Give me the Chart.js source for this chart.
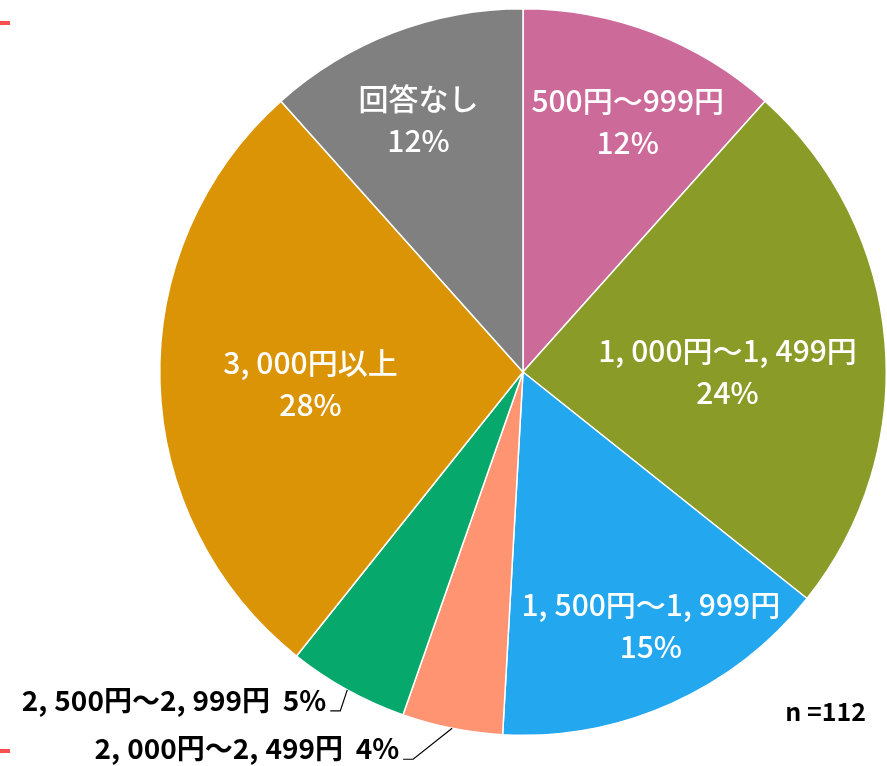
<!DOCTYPE html>
<html>
<head>
<meta charset="utf-8">
<script src="https://cdn.jsdelivr.net/npm/chart.js@4/dist/chart.umd.min.js"></script>
<style>
html,body{margin:0;padding:0;background:#fff;}
#wrap{position:relative;width:887px;height:766px;}
</style>
</head>
<body>
<div id="wrap"><canvas id="c" width="887" height="766"></canvas></div>
<script>
// ---- data ----
const categories = ['500円～999円', '1,000円～1,499円', '1,500円～1,999円', '2,000円～2,499円', '2,500円～2,999円', '3,000円以上', '回答なし'];
const counts = [13, 27, 17, 5, 6, 31, 13];
const percentLabels = ['12%', '24%', '15%', '4%', '5%', '28%', '12%'];
const sampleNote = 'n =112';

// ---- styles ----
const colors = ['#CC6B9A', '#8A9C27', '#23A7EE', '#FF9473', '#06A86B', '#DB9405', '#808080'];
// label placement: [radial fraction, angle shift deg] for inside labels; null => outside
const labelPlace = [[0.747, 1.8], [0.563, 4.8], [0.783, -2.6], null, null, [0.586, -1.6], [0.752, -1.6]];
// outside label elbows (offset from arc edge at mid angle)
const outsideElbow = {3: [-39, 31], 4: [-7, 21]};
const FONT = "'Noto Sans CJK JP', 'Noto Sans', sans-serif";
const COMMA_GAP = 7;

const labelPlugin = {
  id: 'pieLabels',
  afterDatasetsDraw(chart) {
    const ctx = chart.ctx;
    const meta = chart.getDatasetMeta(0);
    ctx.save();
    meta.data.forEach((arc, i) => {
      const p = arc.getProps(['x', 'y', 'startAngle', 'endAngle', 'outerRadius'], true);
      const mid = (p.startAngle + p.endAngle) / 2;
      const place = labelPlace[i];
      if (place) {
        const a = mid + place[1] * Math.PI / 180;
        const r = p.outerRadius * place[0];
        const cx = p.x + Math.cos(a) * r;
        const cy = p.y + Math.sin(a) * r;
        ctx.fillStyle = '#fff';
        ctx.font = '500 30px ' + FONT;
        ctx.textBaseline = 'middle';
        drawSpaced(ctx, categories[i], cx, cy - 21, 'center');
        drawSpaced(ctx, percentLabels[i], cx, cy + 21, 'center');
      } else {
        const ex = p.x + Math.cos(mid) * p.outerRadius;
        const ey = p.y + Math.sin(mid) * p.outerRadius;
        const off = outsideElbow[i];
        const bx = ex + off[0], by = ey + off[1];
        ctx.strokeStyle = '#000';
        ctx.lineWidth = 1.2;
        ctx.beginPath();
        ctx.moveTo(ex, ey);
        ctx.lineTo(bx, by);
        ctx.lineTo(bx - 10, by);
        ctx.stroke();
        ctx.fillStyle = '#000';
        ctx.font = 'bold 28px ' + FONT;
        ctx.textBaseline = 'middle';
        drawSpaced(ctx, categories[i] + '  ' + percentLabels[i], bx - 14, by - 11, 'right');
      }
    });
    // sample size note
    ctx.fillStyle = '#000';
    ctx.font = 'bold 25px ' + FONT;
    ctx.textBaseline = 'middle';
    drawSpaced(ctx, sampleNote, 866, 711, 'right');
    // small red marks at left edge
    ctx.fillStyle = '#FF5050';
    ctx.fillRect(0, 21, 10, 4);
    ctx.fillRect(0, 749, 10, 4);
    ctx.restore();
  }
};

// draws text with a little extra room after commas (like the original monospace font)
function drawSpaced(ctx, text, x, y, align) {
  const chars = Array.from(text);
  let total = 0;
  const widths = chars.map(ch => {
    const w = ctx.measureText(ch).width + (ch === ',' ? COMMA_GAP : 0);
    total += w;
    return w;
  });
  let left = x;
  if (align === 'center') left = x - total / 2;
  else if (align === 'right') left = x - total;
  ctx.textAlign = 'left';
  chars.forEach((ch, k) => {
    ctx.fillText(ch, left, y);
    left += widths[k];
  });
}

new Chart(document.getElementById('c'), {
  type: 'pie',
  data: {
    labels: categories,
    datasets: [{
      data: counts,
      backgroundColor: colors,
      borderColor: '#ffffff',
      borderWidth: 1.5
    }]
  },
  options: {
    responsive: false,
    animation: false,
    events: [],
    layout: {padding: {left: 159, right: 0, top: 8, bottom: 30}},
    plugins: {legend: {display: false}, tooltip: {enabled: false}, title: {display: false}}
  },
  plugins: [labelPlugin]
});
</script>
</body>
</html>
